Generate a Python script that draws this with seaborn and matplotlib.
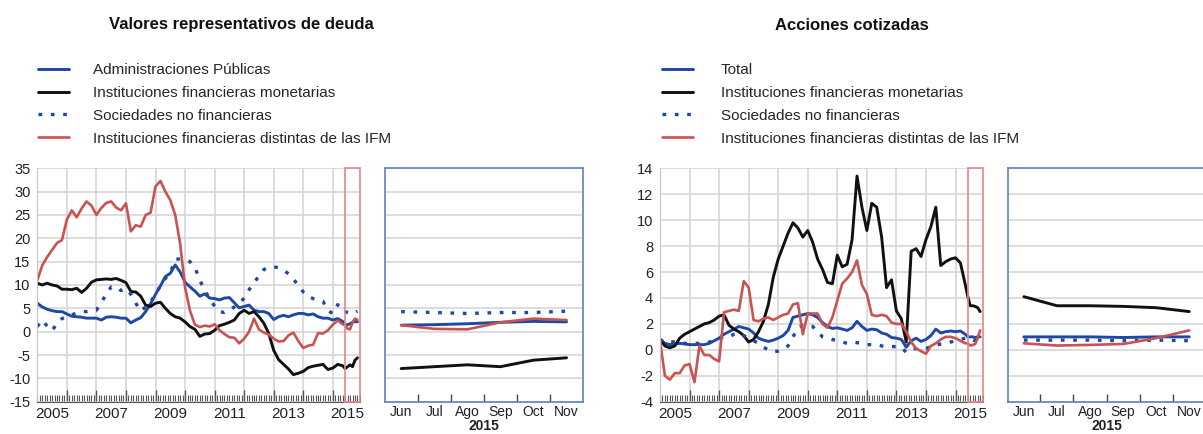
import matplotlib
matplotlib.use('Agg')
import matplotlib.pyplot as plt
from matplotlib.patches import Rectangle
import numpy as np
import pandas as pd
import seaborn as sns

# fechas: bimestral hasta mayo 2015, luego mensual jun-nov 2015
FECHAS = list(pd.date_range('2005-01-01', '2015-05-01', freq='2MS')) + \
    list(pd.date_range('2015-06-01', '2015-11-01', freq='MS'))
MESES = ['Jun', 'Jul', 'Ago', 'Sep', 'Oct', 'Nov']

# --- Valores representativos de deuda ---
deuda_aapp = [
    6.1, 5.3, 4.8, 4.5, 4.3, 4.3,
    3.8, 3.3, 3.2, 3.1, 2.9, 2.9,
    2.9, 2.5, 3.1, 3.2, 3.1, 2.9,
    2.9, 1.9, 2.5, 3.0, 4.3, 6.0,
    8.0, 9.8, 11.8, 12.5, 14.3, 12.8,
    10.6, 9.6, 8.7, 7.6, 8.1, 7.2,
    7.1, 6.8, 7.2, 7.3, 6.2, 5.1,
    5.4, 5.7, 4.6, 4.3, 4.3, 3.9,
    2.6, 3.2, 3.5, 3.2, 3.6, 3.9,
    3.9, 3.6, 3.8, 3.2, 2.9, 2.9,
    2.5, 2.8, 2.2, 1.4, 1.5, 1.7, 2.0, 2.2, 2.1,
]
deuda_ifm = [
    10.4, 10.0, 10.4, 10.0, 9.8, 9.1,
    9.1, 9.0, 9.3, 8.4, 9.3, 10.6,
    11.1, 11.2, 11.3, 11.2, 11.4, 11.0,
    10.5, 8.6, 8.5, 7.6, 5.7, 5.4,
    6.1, 6.3, 5.0, 3.9, 3.2, 2.9,
    2.1, 1.1, 0.5, -1.0, -0.5, -0.4,
    0.3, 1.3, 1.6, 2.0, 2.5, 3.9,
    4.6, 3.9, 4.3, 3.2, 1.8, -0.4,
    -4.0, -6.0, -7.0, -8.0, -9.2, -8.9,
    -8.5, -7.7, -7.4, -7.2, -7.0, -8.1,
    -7.8, -7.0, -7.3, -7.9, -7.5, -7.1, -7.5, -6.1, -5.6,
]
deuda_snf = [
    1.1, 2.5, 1.2, 0.2, 1.8, 2.8,
    3.2, 3.6, 4.0, 4.3, 4.3, 4.5,
    4.6, 6.3, 8.0, 9.6, 9.6, 8.8,
    9.2, 8.0, 6.1, 4.4, 5.3, 6.3,
    8.1, 9.8, 11.4, 12.5, 15.5, 15.6,
    15.4, 15.0, 13.8, 11.0, 8.9, 7.0,
    5.5, 4.3, 4.1, 4.6, 5.3, 6.0,
    7.2, 9.0, 10.4, 12.0, 13.3, 13.8,
    13.9, 13.7, 13.2, 12.4, 11.2, 10.0,
    8.5, 7.5, 7.1, 6.8, 6.5, 4.5,
    3.9, 5.8, 4.3, 4.3, 4.1, 3.9, 4.1, 4.1, 4.4,
]
deuda_ifnm = [
    11.0, 14.2, 16.0, 17.5, 19.0, 19.6,
    24.0, 26.0, 24.5, 26.4, 27.9, 27.0,
    25.0, 26.5, 27.6, 27.9, 26.6, 26.0,
    27.5, 21.5, 22.8, 22.5, 25.0, 25.5,
    31.1, 32.3, 30.0, 28.2, 25.0, 18.9,
    9.5, 4.5, 1.5, 1.0, 1.3, 1.1,
    1.6, 0.3, -0.5, -1.2, -1.3, -2.5,
    -1.5, 0.0, 2.8, 0.5, -0.2, -0.6,
    -1.5, -2.1, -2.0, -0.8, -0.2, -2.0,
    -3.5, -3.0, -2.8, -0.3, -0.4, 0.3,
    1.5, 2.4, 1.6, 1.4, 0.6, 0.5, 2.0, 2.8, 2.5,
]

# --- Acciones cotizadas ---
acc_total = [
    0.8, 0.5, 0.4, 0.45, 0.5, 0.45,
    0.4, 0.4, 0.4, 0.4, 0.5, 0.7,
    0.9, 1.2, 1.4, 1.6, 1.8, 1.7,
    1.6, 1.3, 0.9, 0.75, 0.65, 0.75,
    0.9, 1.1, 1.5, 2.5, 2.6, 2.7,
    2.8, 2.7, 2.5, 2.1, 1.8, 1.65,
    1.7, 1.6, 1.5, 1.7, 2.2, 1.8,
    1.5, 1.6, 1.55, 1.3, 1.2, 0.95,
    0.9, 0.8, 0.2, 0.7, 0.9, 0.65,
    0.8, 1.1, 1.6, 1.3, 1.4, 1.45,
    1.4, 1.45, 1.2, 1.0, 1.0, 1.0, 0.95, 1.0, 1.0,
]
acc_ifm = [
    0.8, 0.3, 0.15, 0.3, 0.9, 1.2,
    1.4, 1.6, 1.8, 2.0, 2.1, 2.3,
    2.6, 2.7, 1.9, 1.6, 1.4, 1.1,
    0.6, 0.8, 1.4, 2.2, 3.5, 5.6,
    7.0, 8.0, 9.0, 9.8, 9.4, 8.7,
    9.2, 8.3, 7.0, 6.2, 5.2, 5.1,
    7.3, 6.4, 6.6, 8.5, 13.4, 11.0,
    9.2, 11.3, 11.0, 8.7, 4.8, 5.4,
    3.0, 2.4, 0.6, 7.6, 7.8, 7.2,
    8.5, 9.5, 11.0, 6.5, 6.8, 7.0,
    7.1, 6.7, 5.0, 4.1, 3.4, 3.4, 3.35, 3.25, 2.95,
]
acc_snf = [
    0.8, 0.55, 0.65, 0.6, 0.5, 0.5,
    0.5, 0.5, 0.5, 0.55, 0.6, 0.7,
    0.85, 1.0, 1.0, 1.2, 1.3, 1.1,
    0.9, 0.7, 0.5, 0.2, 0.0, -0.15,
    -0.1, 0.05, 0.3, 1.0, 1.7, 1.9,
    1.8, 1.8, 1.4, 1.0, 0.9, 0.8,
    0.7, 0.6, 0.5, 0.6, 0.55, 0.5,
    0.4, 0.4, 0.4, 0.3, 0.25, 0.25,
    0.25, 0.2, -0.2, 0.0, 0.1, 0.1,
    0.1, 0.25, 0.35, 0.45, 0.5, 0.6,
    0.7, 0.8, 0.9, 0.75, 0.75, 0.75, 0.7, 0.75, 0.7,
]
acc_ifnm = [
    0.7, -2.0, -2.3, -1.8, -1.8, -1.2,
    -1.1, -2.5, 0.3, -0.4, -0.4, -0.7,
    -0.9, 2.9, 3.0, 3.1, 3.0, 5.3,
    4.8, 2.3, 2.2, 2.4, 2.5, 2.3,
    2.5, 2.7, 2.8, 3.5, 3.6, 1.2,
    2.8, 2.8, 2.8, 2.0, 1.7, 2.5,
    3.8, 5.1, 5.5, 6.0, 6.9, 5.0,
    4.3, 2.7, 2.6, 2.7, 2.6, 2.1,
    2.0, 2.0, 1.4, 0.6, 0.1, -0.1,
    -0.3, 0.3, 0.5, 0.8, 1.0, 1.0,
    0.9, 0.7, 0.5, 0.5, 0.33, 0.38, 0.45, 0.9, 1.5,
]

AZUL = '#1f48a3'
NEGRO = '#111111'
ROJO = '#c95352'
GRIS = '#d3d3d3'
MARCO = '#5f80c6'
W, H = 1203, 434


def make_df(series):
    frames = []
    for name, vals in series.items():
        frames.append(pd.DataFrame({'fecha': FECHAS, 'valor': vals, 'serie': name}))
    df = pd.concat(frames, ignore_index=True)
    df['anio'] = df['fecha'].dt.year + (df['fecha'].dt.month - 1) / 12
    return df


def draw_lines(ax, df, xcol, names):
    colores = dict(zip(names, [AZUL, NEGRO, AZUL, ROJO]))
    guiones = dict(zip(names, ['', '', (1.1, 2.6), '']))
    sns.lineplot(data=df, x=xcol, y='valor', hue='serie', style='serie',
                 hue_order=names, style_order=names, palette=colores,
                 dashes=guiones, linewidth=2.1, estimator=None,
                 legend=False, ax=ax)
    lines = ax.get_lines()
    lines[2].set_linewidth(2.4)
    lines[3].set_linewidth(1.9)
    return lines


def panel(fig, left, series, ylim, ystep, title, title_x, leg_x, leg_pad):
    names = list(series.keys())
    df = make_df(series)
    bottom = 1 - 401.7 / H
    height = 233.4 / H

    ax = fig.add_axes([left / W, bottom, 322.7 / W, height])
    lines = draw_lines(ax, df, 'anio', names)
    ax.set_xlim(2005, 2015.92)
    ax.set_ylim(*ylim)
    ax.set_xticks(np.arange(2006, 2016))
    ax.set_xticks(np.arange(2005, 2015.92, 1 / 12), minor=True)
    ax.set_xticklabels([])
    ax.set_yticks(np.arange(ylim[0], ylim[1] + 0.1, ystep))
    ax.grid(True, which='major', color=GRIS, lw=1.1)
    ax.tick_params(axis='y', length=0, pad=5, labelsize=10.5, labelcolor='#222')
    ax.tick_params(axis='x', which='both', bottom=True)
    ax.tick_params(axis='x', which='major', direction='in', length=9,
                   width=1, color='#555')
    ax.tick_params(axis='x', which='minor', direction='in', length=5,
                   width=0.8, color='#555')
    for s in ['top', 'right']:
        ax.spines[s].set_visible(False)
    ax.spines['left'].set_color('#c4c4c4')
    ax.spines['bottom'].set_color('#555')
    ax.set_xlabel('')
    ax.set_ylabel('')
    for yr in range(2005, 2016, 2):
        ax.text(yr + 0.5, -0.022, str(yr), transform=ax.get_xaxis_transform(),
                ha='center', va='top', fontsize=11, color='#222')
    x0 = 2015 + 5 / 12
    ax.add_patch(Rectangle((x0, ylim[0]), 2015.92 - x0, ylim[1] - ylim[0],
                           fill=False, ec='#e58585', lw=1.2, zorder=4,
                           clip_on=False))

    # detalle 2015
    dz = df[df['fecha'] >= '2015-06-01'].copy()
    dz['mes'] = dz['fecha'].dt.month - 6
    zleft = (left + 348) / W
    zwidth = 197.8 / W
    az = fig.add_axes([zleft, bottom, zwidth, height])
    draw_lines(az, dz, 'mes', names)
    az.set_xlim(-0.48, 5.5)
    az.set_ylim(*ylim)
    az.set_yticks(np.arange(ylim[0], ylim[1] + 0.1, ystep))
    az.set_yticklabels([])
    az.set_xticks(range(6))
    az.set_xticklabels(MESES)
    az.set_xticks(np.arange(0.5, 5, 1), minor=True)
    az.grid(True, axis='y', color=GRIS, lw=1.1)
    az.tick_params(axis='y', length=0)
    az.tick_params(axis='x', which='both', bottom=True)
    az.tick_params(axis='x', which='major', length=0, pad=2.5, labelsize=10,
                   labelcolor='#222')
    az.tick_params(axis='x', which='minor', direction='in', length=6,
                   width=1, color='#444')
    for s in az.spines.values():
        s.set_color(MARCO)
        s.set_linewidth(1.2)
    az.set_xlabel('')
    az.set_ylabel('')
    fig.text(zleft + 0.48 / 5.98 * zwidth + 2.5 / 5.98 * zwidth, 1.5 / H,
             '2015', ha='center', va='bottom', fontsize=10,
             fontweight='bold', color='#222')

    fig.text(title_x / W, 1 - 25 / H, title, ha='center', va='center',
             fontsize=12, fontweight='bold', color='#111')
    fig.legend(handles=list(lines[:4]), labels=names, loc='upper left',
               bbox_to_anchor=(leg_x / W, 1 - 63 / H), frameon=False,
               fontsize=11, handlelength=2.0, handletextpad=leg_pad,
               labelspacing=0.58, borderpad=0, borderaxespad=0)


def main():
    sns.set_style('white')
    plt.rcParams['font.family'] = ['Liberation Sans', 'DejaVu Sans']
    plt.rcParams['axes.unicode_minus'] = False

    fig = plt.figure(figsize=(W / 100, H / 100), dpi=100)

    deuda = {
        'Administraciones Públicas': deuda_aapp,
        'Instituciones financieras monetarias': deuda_ifm,
        'Sociedades no financieras': deuda_snf,
        'Instituciones financieras distintas de las IFM': deuda_ifnm,
    }
    acciones = {
        'Total': acc_total,
        'Instituciones financieras monetarias': acc_ifm,
        'Sociedades no financieras': acc_snf,
        'Instituciones financieras distintas de las IFM': acc_ifnm,
    }
    panel(fig, 37.3, deuda, (-15, 35), 5, 'Valores representativos de deuda',
          241, 38, 1.6)
    panel(fig, 660, acciones, (-4, 14), 2, 'Acciones cotizadas', 852, 662, 1.85)

    fig.savefig('out.png', dpi=100)


if __name__ == '__main__':
    main()
